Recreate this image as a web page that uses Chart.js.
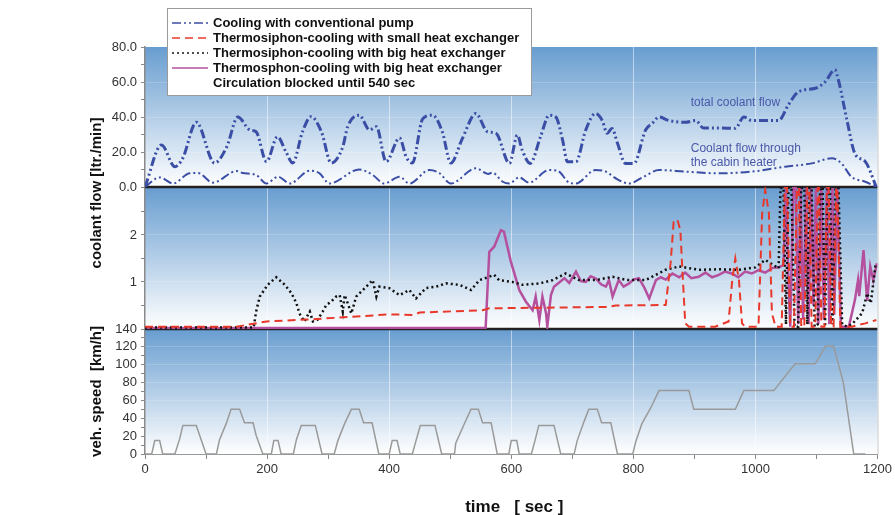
<!DOCTYPE html>
<html>
<head>
<meta charset="utf-8">
<script src="https://cdn.jsdelivr.net/npm/chart.js@4.4.0/dist/chart.umd.min.js"></script>
<style>
html, body { margin: 0; padding: 0; background: #fff; }
</style>
</head>
<body>
<canvas id="chart" width="895" height="515"></canvas>
<script>
// time [sec] / value pairs
const totalFlow = [[0,0],[27,24],[49,11.6],[62,16.6],[84,37],[114,13.7],[134,23],[152,40],[172,32.6],[182,31.6],[199,14.5],[217,28.7],[231,20],[242,13.7],[258,31.6],[272,40.2],[289,31.6],[305,13.7],[324,23],[332,34.5],[351,41],[368,32.6],[379,34.5],[395,14.5],[417,28],[428,17],[438,13.7],[455,39],[471,41],[487,31.6],[501,13.7],[520,27.8],[542,42],[561,31.6],[575,30.7],[597,13.5],[610,29.7],[618,21],[631,13.5],[648,28.8],[662,41],[673,40],[684,26.9],[692,14.5],[706,14.5],[722,32.6],[738,42],[749,38],[757,30.7],[765,33.5],[774,25],[787,13.5],[801,13.5],[820,32.6],[831,36.4],[842,40],[858,38],[885,37],[902,38],[915,33.7],[940,33.7],[967,33.5],[981,40],[994,38],[1038,38],[1054,47],[1071,54.5],[1098,56.4],[1114,60],[1130,67],[1136,61],[1150,38],[1163,19],[1180,14.5],[1198,0]];
const heaterFlow = [[0,0],[24,5.5],[46,2],[73,7.8],[87,8],[111,2.5],[150,9.1],[160,8],[182,6.9],[199,2],[218,5.9],[237,2],[270,9.3],[286,7.8],[302,2],[351,10],[373,6.9],[392,2],[417,5.9],[433,2],[466,9.7],[482,8],[501,2],[542,10.7],[562,7.5],[569,8.2],[586,3],[597,2],[613,5.5],[629,2.5],[662,9.7],[676,9.3],[695,2.5],[706,2],[738,9.7],[755,8.8],[771,5],[793,2],[815,5.5],[842,9.7],[885,8.8],[940,7.8],[994,8.8],[1049,11.6],[1092,13.5],[1125,16.4],[1141,13.5],[1157,5.9],[1180,3],[1198,0]];
const smallHx = [[0,0.05],[150,0.05],[172,0.1],[199,0.16],[264,0.2],[340,0.26],[400,0.31],[439,0.3],[450,0.35],[553,0.4],[564,0.44],[760,0.47],[771,0.5],[853,0.51],[861,1.4],[866,2.28],[872,2.33],[877,2.1],[880,1.33],[885,0.12],[891,0.05],[934,0.05],[956,0.16],[962,1.04],[967,1.5],[973,1.04],[978,0.12],[983,0.05],[1005,0.05],[1011,2.46],[1016,2.96],[1022,2.47],[1027,0.33],[1033,0.05],[1043,0.05],[1048,3],[1052,3],[1057,0.05],[1063,0.05],[1068,3],[1071,3],[1075,0.05],[1080,0.05],[1085,3],[1088,3],[1092,0.05],[1098,0.05],[1102,3],[1104,3],[1108,0.05],[1113,0.05],[1117,3],[1120,3],[1124,0.05],[1128,0.05],[1132,3],[1134,3],[1139,0.05],[1158,0.05],[1180,0.12],[1198,0.19]];
const bigHx = [[0,0.03],[178,0.03],[182,0.37],[188,0.69],[201,0.94],[215,1.1],[229,0.94],[240,0.76],[248,0.55],[253,0.33],[261,0.16],[270,0.37],[275,0.16],[283,0.2],[291,0.37],[297,0.51],[305,0.58],[313,0.69],[319,0.72],[324,0.37],[327,0.72],[332,0.55],[338,0.33],[346,0.69],[357,0.83],[373,1.04],[379,0.69],[384,0.9],[400,0.87],[417,0.72],[433,0.83],[444,0.65],[460,0.87],[477,0.9],[493,0.97],[515,0.94],[534,0.83],[548,1.04],[572,1.15],[580,1.04],[602,1.0],[618,0.94],[646,0.97],[668,1.04],[689,1.18],[711,1.04],[738,1.04],[766,1.11],[790,1.04],[820,1.04],[853,1.26],[875,1.33],[907,1.26],[940,1.27],[973,1.26],[1000,1.31],[1016,1.47],[1038,1.29],[1041,3],[1046,3],[1050,0.1],[1054,3],[1059,3],[1064,0.05],[1070,0.05],[1075,3],[1080,3],[1085,0.1],[1088,3],[1092,3],[1097,0.05],[1102,0.1],[1106,3],[1110,3],[1114,0.05],[1118,3],[1122,3],[1126,0.1],[1131,3],[1136,3],[1142,0.1],[1150,0.05],[1158,0.1],[1175,0.34],[1183,0.76],[1189,0.55],[1197,1.4]];
const blockedHx = [[0,0.02],[558,0.02],[564,1.64],[572,1.75],[583,2.1],[588,2.07],[599,1.45],[613,0.83],[624,0.58],[635,0.4],[640,0.69],[646,0.19],[651,0.69],[657,0.33],[659,0.05],[665,0.72],[670,0.9],[687,1.08],[695,0.98],[706,1.22],[714,1.02],[722,1.0],[730,1.12],[738,1.08],[747,0.95],[755,0.9],[760,1.04],[766,0.69],[776,1.04],[784,0.9],[793,0.97],[800,1.05],[809,1.08],[818,0.88],[826,0.65],[837,1.04],[845,1.1],[853,1.05],[864,1.18],[875,1.1],[885,1.2],[895,1.08],[907,1.11],[918,1.2],[929,1.1],[940,1.15],[950,1.22],[961,1.18],[972,1.1],[983,1.22],[994,1.18],[1005,1.25],[1016,1.2],[1028,1.3],[1038,1.31],[1046,1.36],[1050,3],[1054,1.0],[1057,0.05],[1062,3],[1066,3],[1070,0.1],[1074,3],[1078,0.2],[1083,3],[1087,0.1],[1091,3],[1095,0.5],[1099,3],[1103,0.1],[1108,3],[1112,0.2],[1117,3],[1121,0.1],[1126,3],[1129,0.3],[1134,3],[1140,0.05],[1153,0.05],[1163,0.62],[1168,1.04],[1170,0.7],[1177,1.68],[1183,0.6],[1188,1.33],[1193,1.04],[1199,1.4]];
const vehSpeed = [[0,0],[11,0],[16,15],[24,15],[29,0],[49,0],[57,17.5],[62,32],[84,32],[100,0],[117,0],[122,15.7],[133,34],[141,50],[155,50],[163,35],[177,35],[182,21],[193,0],[207,0],[211,15],[218,15],[223,0],[243,0],[248,16],[256,32],[279,32],[290,0],[310,0],[316,15],[327,34],[338,50],[351,50],[358,35],[372,35],[383,0],[400,0],[405,15],[413,15],[418,0],[438,0],[444,15],[451,32],[475,32],[486,0],[507,0],[509,12],[523,33.6],[534,50],[546,50],[553,35],[567,35],[577,0],[596,0],[600,15],[609,15],[613,0],[633,0],[640,18],[645,32],[670,32],[681,0],[703,0],[708,15],[719,36],[727,50],[741,50],[748,35],[763,35],[774,0],[799,0],[804,14],[814,34],[828,51],[842,71],[891,71],[899,50],[967,50],[981,71],[1030,71],[1065,101],[1098,101],[1115,121],[1128,121],[1144,80],[1161,0],[1180,0]];

const legendLabels = [
    ["Cooling with conventional pump"],
    ["Thermosiphon-cooling with small heat exchanger"],
    ["Thermosiphon-cooling with big heat exchanger"],
    ["Thermosphon-cooling with big heat exchanger", "Circulation blocked until 540 sec"]
];
const xTicks = [0, 200, 400, 600, 800, 1000, 1200];

const FONT = "'Liberation Sans', Arial, sans-serif";
Chart.defaults.font.family = FONT;
Chart.defaults.font.size = 13;
Chart.defaults.color = "#333";

const pts = arr => arr.map(p => ({ x: p[0], y: p[1] }));
const pumpColor = "#3b4ea6";

const panelPlugin = {
    id: "panels",
    beforeDraw(chart) {
        const { ctx, chartArea } = chart;
        ["yTop", "yMid", "ySpd"].forEach(id => {
            const s = chart.scales[id];
            const g = ctx.createLinearGradient(0, s.top, 0, s.bottom);
            g.addColorStop(0, "#689dd0");
            g.addColorStop(1, "#ffffff");
            ctx.fillStyle = g;
            ctx.fillRect(chartArea.left, s.top, chartArea.right - chartArea.left, s.bottom - s.top);
        });
    },
    beforeDatasetsDraw(chart) {
        const { ctx, chartArea } = chart;
        ctx.save();
        ctx.strokeStyle = "#222";
        ctx.lineWidth = 2.5;
        [chart.scales.yTop.bottom, chart.scales.yMid.bottom].forEach(y => {
            ctx.beginPath();
            ctx.moveTo(chartArea.left, y);
            ctx.lineTo(chartArea.right, y);
            ctx.stroke();
        });
        ctx.strokeStyle = "#c8c8c8";
        ctx.lineWidth = 1;
        ctx.beginPath();
        ctx.moveTo(chartArea.right + 0.5, chartArea.top);
        ctx.lineTo(chartArea.right + 0.5, chartArea.bottom);
        ctx.stroke();
        ctx.restore();
    },
    afterDraw(chart) {
        const { ctx, chartArea } = chart;
        const yTop = chart.scales.yTop, ySpd = chart.scales.ySpd, x = chart.scales.x;
        ctx.save();

        // annotations in the top panel
        ctx.fillStyle = "#4a58a8";
        ctx.font = "12px " + FONT;
        ctx.textAlign = "left";
        ctx.textBaseline = "middle";
        const ax = x.getPixelForValue(894);
        ctx.fillText("total coolant flow", ax, yTop.getPixelForValue(48));
        ctx.fillText("Coolant flow through", ax, yTop.getPixelForValue(21.7));
        ctx.fillText("the cabin heater", ax, yTop.getPixelForValue(13.7));

        // legend box
        const lx = chartArea.left + 22, ly = chartArea.top - 39;
        ctx.fillStyle = "#fff";
        ctx.fillRect(lx, ly, 364, 87);
        ctx.strokeStyle = "#9a9a9a";
        ctx.lineWidth = 1;
        ctx.strokeRect(lx + 0.5, ly + 0.5, 364, 87);
        const sample = [chart.data.datasets[0], chart.data.datasets[2], chart.data.datasets[3], chart.data.datasets[4]];
        ctx.font = "bold 13px " + FONT;
        ctx.fillStyle = "#111";
        let row = 0;
        legendLabels.forEach((lines, i) => {
            const ds = sample[i];
            const cy = ly + 15 + row * 15;
            ctx.save();
            ctx.globalAlpha = 0.75;
            ctx.strokeStyle = ds.borderColor;
            ctx.lineWidth = 2;
            ctx.setLineDash(ds.borderDash || []);
            ctx.beginPath();
            ctx.moveTo(lx + 5, cy);
            ctx.lineTo(lx + 41, cy);
            ctx.stroke();
            ctx.restore();
            lines.forEach(t => {
                ctx.fillText(t, lx + 46, ly + 15 + row * 15);
                row++;
            });
        });

        // axis titles
        ctx.fillStyle = "#111";
        ctx.font = "bold 15px " + FONT;
        ctx.textAlign = "center";
        ctx.textBaseline = "alphabetic";
        const tx = chartArea.left - 44;
        [["coolant flow [ltr./min]", yTop.bottom + 6], ["veh. speed  [km/h]", (ySpd.top + ySpd.bottom) / 2]].forEach(([t, cy]) => {
            ctx.save();
            ctx.translate(tx, cy);
            ctx.rotate(-Math.PI / 2);
            ctx.fillText(t, 0, 0);
            ctx.restore();
        });
        ctx.font = "bold 17px " + FONT;
        ctx.fillText("time   [ sec ]", (chartArea.left + chartArea.right) / 2 + 3, chartArea.bottom + 58);
        ctx.restore();
    }
};

const yGrid = major => ({
    color: c => major(c.tick.value) ? "rgba(255,255,255,0.18)" : "rgba(0,0,0,0)",
    tickColor: "#888",
    tickLength: 4,
    drawTicks: true
});
const fixWidth = s => { s.width = 45; };

new Chart(document.getElementById("chart"), {
    type: "line",
    data: {
        datasets: [
            { label: "total coolant flow", data: pts(totalFlow), yAxisID: "yTop", borderColor: pumpColor, borderWidth: 3, borderDash: [9, 3, 2, 3, 2, 3], cubicInterpolationMode: "monotone" },
            { label: "cabin heater flow", data: pts(heaterFlow), yAxisID: "yTop", borderColor: pumpColor, borderWidth: 2, borderDash: [9, 3, 2, 3, 2, 3], cubicInterpolationMode: "monotone" },
            { label: legendLabels[1][0], data: pts(smallHx), yAxisID: "yMid", borderColor: "#e8382a", borderWidth: 2, borderDash: [8, 5] },
            { label: legendLabels[2][0], data: pts(bigHx), yAxisID: "yMid", borderColor: "#111", borderWidth: 2.5, borderDash: [2, 3] },
            { label: legendLabels[3][0], data: pts(blockedHx), yAxisID: "yMid", borderColor: "#b5509f", borderWidth: 2.5 },
            { label: "vehicle speed", data: pts(vehSpeed), yAxisID: "ySpd", borderColor: "#9a9a9a", borderWidth: 1.5 }
        ]
    },
    options: {
        responsive: false,
        animation: false,
        elements: { point: { radius: 0 }, line: { tension: 0 } },
        layout: { padding: { left: 100, right: 16, top: 47, bottom: 0 } },
        plugins: { legend: { display: false }, tooltip: { enabled: false } },
        scales: {
            x: {
                type: "linear", min: 0, max: 1200,
                afterFit: s => { s.height = 61; },
                border: { color: "#999", width: 1 },
                grid: {
                    color: c => (xTicks.includes(c.tick.value) && c.tick.value > 0 && c.tick.value < 1200) ? "rgba(255,255,255,0.5)" : "rgba(0,0,0,0)",
                    tickColor: "#888", tickLength: 5
                },
                ticks: {
                    stepSize: 100, autoSkip: false, maxRotation: 0, padding: 3,
                    callback: v => xTicks.includes(v) ? String(v) : ""
                }
            },
            ySpd: {
                position: "left", stack: "panels", stackWeight: 125, min: 0, max: 140,
                afterFit: fixWidth,
                border: { color: "#8a8a8a", width: 1.5 },
                grid: yGrid(v => v % 20 === 0 && v > 0 && v < 140),
                ticks: { stepSize: 10, autoSkip: false, padding: 4, callback: v => v % 20 === 0 ? String(v) : "" }
            },
            yMid: {
                position: "left", stack: "panels", stackWeight: 142, min: 0, max: 3.02,
                afterFit: fixWidth,
                border: { color: "#8a8a8a", width: 1.5 },
                grid: yGrid(v => v === 1 || v === 2),
                ticks: { stepSize: 0.5, autoSkip: false, padding: 4, callback: v => (v === 1 || v === 2) ? String(v) : "" }
            },
            yTop: {
                position: "left", stack: "panels", stackWeight: 140, min: 0, max: 80,
                afterFit: fixWidth,
                border: { color: "#8a8a8a", width: 1.5 },
                grid: yGrid(v => v % 20 === 0 && v > 0 && v < 80),
                ticks: { stepSize: 10, autoSkip: false, padding: 4, callback: v => v % 20 === 0 ? v.toFixed(1) : "" }
            }
        }
    },
    plugins: [panelPlugin]
});
</script>
</body>
</html>
